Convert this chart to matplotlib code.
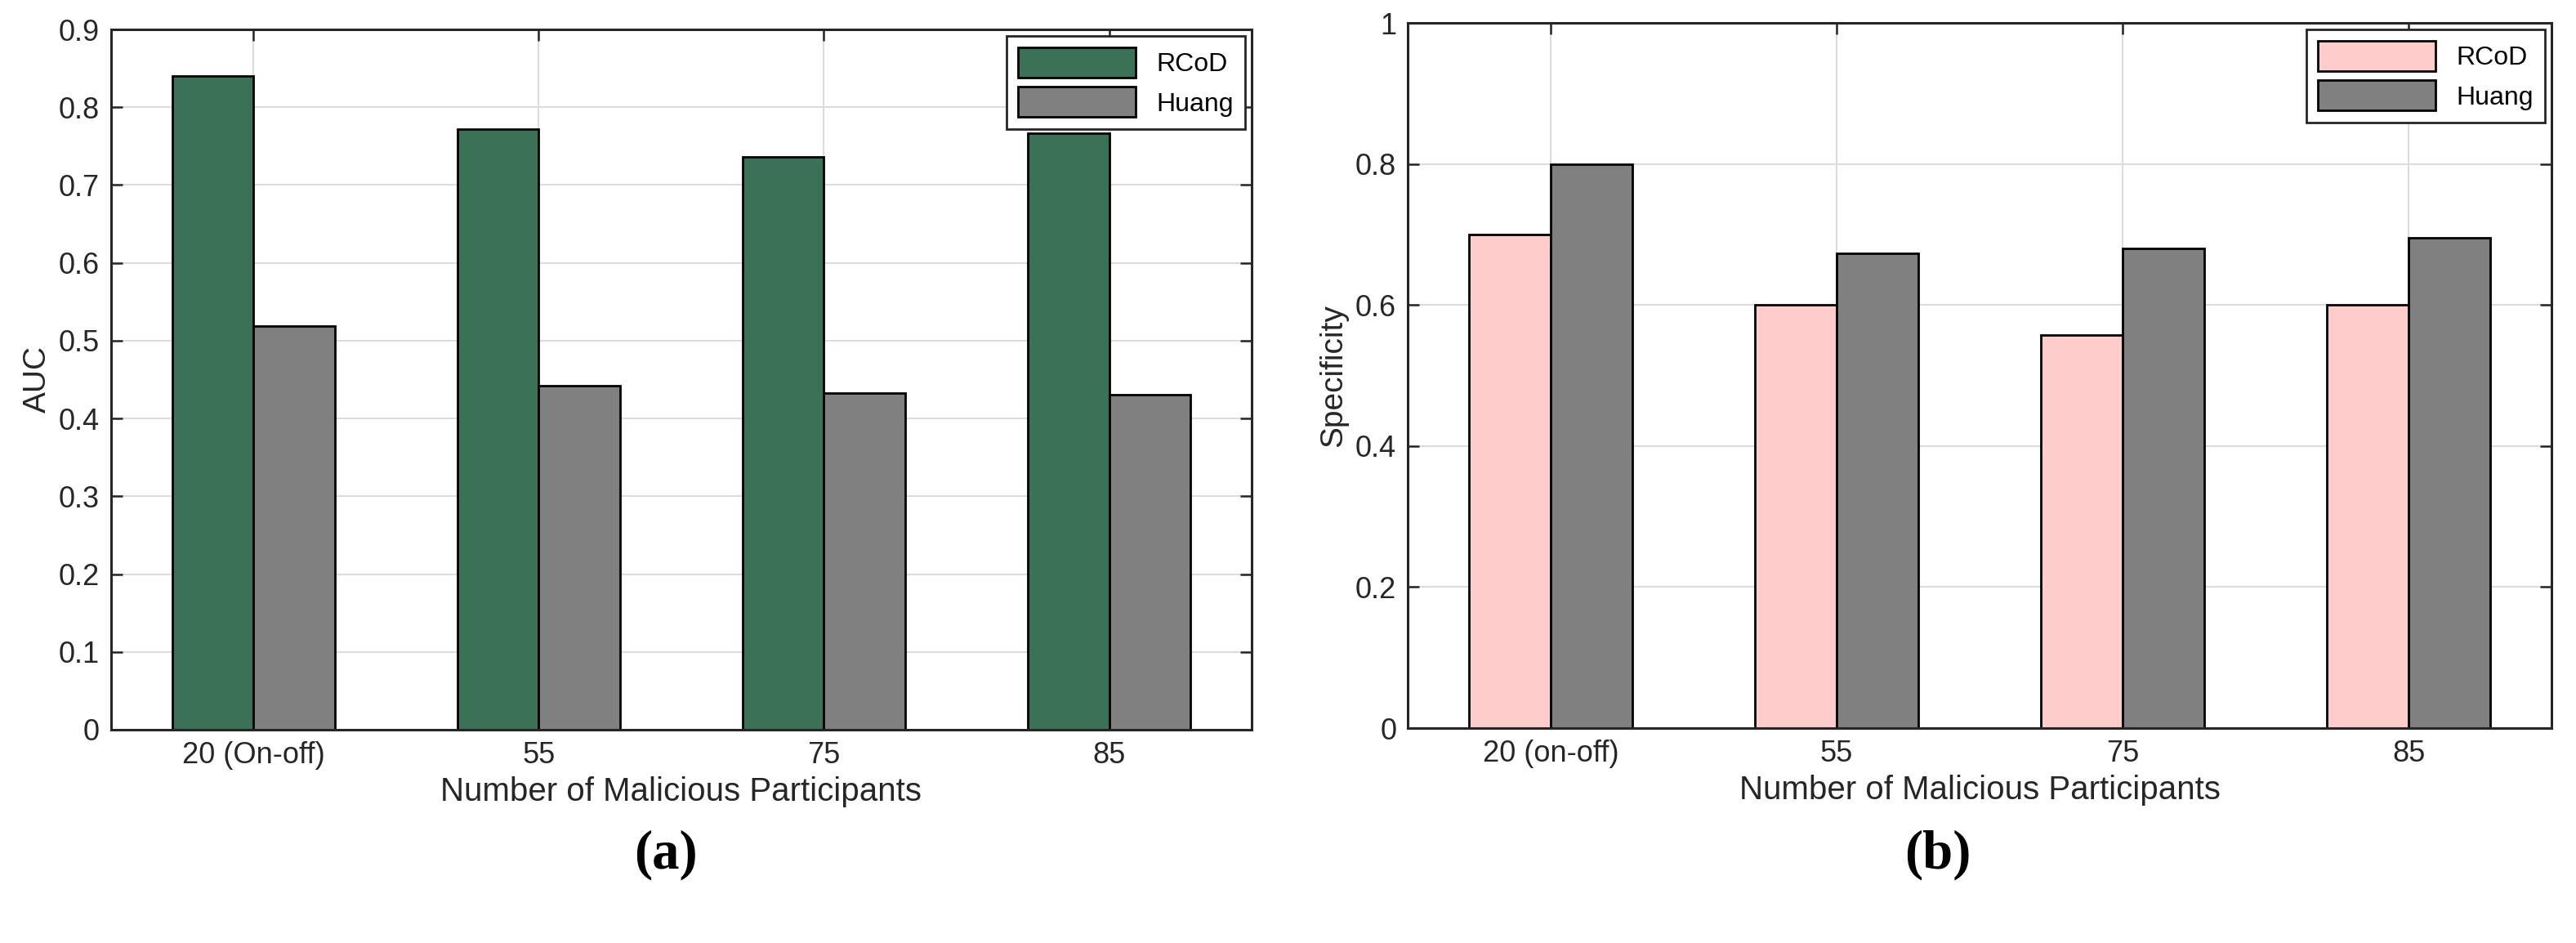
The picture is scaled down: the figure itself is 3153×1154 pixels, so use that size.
import numpy as np
import matplotlib
matplotlib.use("Agg")
import matplotlib.pyplot as plt

plt.rcParams['font.family'] = ['Liberation Sans', 'DejaVu Sans']

# data
groups_a = ["20 (On-off)", "55", "75", "85"]
groups_b = ["20 (on-off)", "55", "75", "85"]
series = ["RCoD", "Huang"]
auc_rcod = [0.840, 0.772, 0.736, 0.767]
auc_huang = [0.519, 0.442, 0.433, 0.431]
spec_rcod = [0.700, 0.600, 0.557, 0.600]
spec_huang = [0.800, 0.673, 0.680, 0.695]

dark = "#262626"
w = 2 / 3.5 / 2

fig = plt.figure(figsize=(31.53, 11.54), dpi=100)
ax1 = fig.add_axes([0.0431, 0.2262, 0.4428, 0.7426])
ax2 = fig.add_axes([0.5465, 0.2279, 0.4440, 0.7478])


def draw(ax, labels, v1, v2, c1, ylim, yticks, ylabel):
    x = np.arange(1, len(labels) + 1)
    ax.bar(x - w / 2, v1, w, color=c1, edgecolor="black", linewidth=2, label=series[0], zorder=3)
    ax.bar(x + w / 2, v2, w, color="#808080", edgecolor="black", linewidth=2, label=series[1], zorder=3)
    ax.set_xlim(0.5, 4.5)
    ax.set_ylim(*ylim)
    ax.set_xticks(x)
    ax.set_xticklabels(labels)
    ax.set_yticks(yticks)
    ax.set_yticklabels(["%g" % t for t in yticks])
    ax.grid(True, color="#dcdcdc", linewidth=1.5, zorder=0)
    ax.tick_params(direction="in", length=10, width=1.8, colors=dark, labelsize=26,
                   top=True, right=True, pad=10)
    for s in ax.spines.values():
        s.set_color(dark)
        s.set_linewidth(2.2)
        s.set_zorder(5)
    ax.set_xlabel("Number of Malicious Participants", fontsize=29, color=dark, labelpad=6)
    ax.set_ylabel(ylabel, fontsize=28, color=dark, labelpad=6)
    leg = ax.legend(loc="upper right", fontsize=23, fancybox=False, framealpha=1,
                    edgecolor=dark, handlelength=4.5, handleheight=1.4,
                    borderaxespad=0.25, labelspacing=0.35, borderpad=0.45)
    leg.get_frame().set_linewidth(2)


draw(ax1, groups_a, auc_rcod, auc_huang, "#3b7157", (0, 0.9),
     [0, 0.1, 0.2, 0.3, 0.4, 0.5, 0.6, 0.7, 0.8, 0.9], "AUC")
draw(ax2, groups_b, spec_rcod, spec_huang, "#ffcccc", (0, 1),
     [0, 0.2, 0.4, 0.6, 0.8, 1], "Specificity")

fig.text(0.2585, 0.093, "(a)", fontsize=48, fontweight="bold", family=["Liberation Serif", "DejaVu Serif"],
         ha="center", va="center")
fig.text(0.7523, 0.093, "(b)", fontsize=48, fontweight="bold", family=["Liberation Serif", "DejaVu Serif"],
         ha="center", va="center")

fig.savefig("out.png", dpi=100)
